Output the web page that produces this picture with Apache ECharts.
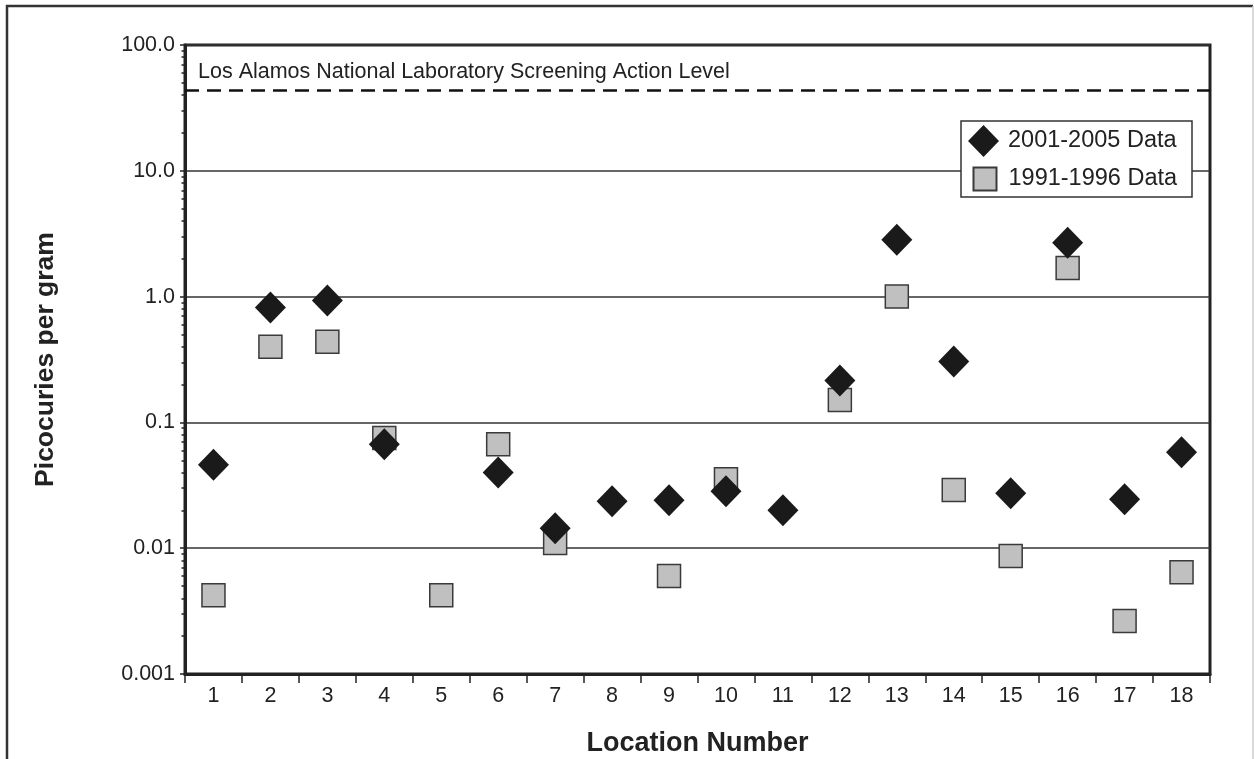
<!DOCTYPE html>
<html>
<head>
<meta charset="utf-8">
<script src="https://cdn.jsdelivr.net/npm/echarts@6/dist/echarts.min.js"></script>
<style>
html,body{margin:0;padding:0;background:#fff;}
#chart{width:1254px;height:759px;}
</style>
</head>
<body>
<div id="chart"></div>
<script>
const categories = ['1','2','3','4','5','6','7','8','9','10','11','12','13','14','15','16','17','18'];
const data2001 = [0.046, 0.82, 0.93, 0.067, null, 0.040, 0.0144, 0.0236, 0.024, 0.0283, 0.020, 0.215, 2.83, 0.305, 0.0273, 2.68, 0.0245, 0.0578];
const data1991 = [0.00423, 0.40, 0.438, 0.075, 0.00423, 0.067, 0.011, null, 0.0060, 0.0353, null, 0.151, 1.0, 0.029, 0.00867, 1.69, 0.00264, 0.00645];
const actionLevel = [44];
const yTickValues = [0.001, 0.01, 0.1, 1, 10, 100];
const yTickLabels = ['0.001', '0.01', '0.1', '1.0', '10.0', '100.0'];
const seriesNames = ['2001-2005 Data', '1991-1996 Data'];
const actionLabel = 'Los Alamos National Laboratory Screening Action Level';

const FONT = '"Liberation Sans", Arial, Helvetica, sans-serif';

// minor tick positions (log10 space) for decades 0.001..100
const minorTicks = [];
for (let d = -3; d < 2; d++) {
  for (let k = 2; k <= 9; k++) minorTicks.push(d + Math.log10(k));
}

const chart = echarts.init(document.getElementById('chart'), null, {renderer: 'canvas'});
chart.setOption({
  backgroundColor: '#fff',
  animation: false,
  textStyle: {fontFamily: FONT, color: '#222'},
  title: {
    text: actionLabel,
    left: 198, top: 61, padding: 0,
    textStyle: {fontFamily: FONT, fontSize: 21.5, fontWeight: 'normal', color: '#222'}
  },
  graphic: [
    {type: 'polyline', silent: true, z: 100,
     shape: {points: [[7, 770], [7, 6], [1253, 6]]},
     style: {stroke: '#333', lineWidth: 2.5, fill: null}},
    {type: 'line', silent: true, z: 100,
     shape: {x1: 1253, y1: 6, x2: 1253, y2: 770},
     style: {stroke: '#ccc', lineWidth: 1.5}},
    {type: 'rect', silent: true, z: 50,
     shape: {x: 961, y: 121, width: 231, height: 76},
     style: {stroke: '#333', lineWidth: 1.5, fill: '#fff'}}
  ],
  legend: [
    {data: [seriesNames[0]], left: 968, top: 125, padding: 0, z: 60,
     itemWidth: 31, itemHeight: 32, orient: 'vertical', selectedMode: false,
     textStyle: {fontFamily: FONT, fontSize: 23.5, color: '#222', padding: [0, 0, 0, 4]}},
    {data: [seriesNames[1]], left: 972.5, top: 166.5, padding: 0, z: 60,
     itemWidth: 23, itemHeight: 23, orient: 'vertical', selectedMode: false,
     textStyle: {fontFamily: FONT, fontSize: 23.5, color: '#222', padding: [0, 0, 0, 7]}}
  ],
  grid: {
    left: 185, right: 44, top: 45, bottom: 85,
    outerBoundsMode: 'none',
    containLabel: false,
    show: true, borderColor: '#222', borderWidth: 3, backgroundColor: 'transparent'
  },
  xAxis: {
    type: 'category',
    data: categories,
    boundaryGap: true,
    name: 'Location Number',
    nameLocation: 'middle',
    nameGap: 56,
    nameTextStyle: {fontFamily: FONT, fontSize: 27, fontWeight: 'bold', color: '#222'},
    axisLine: {onZero: false, lineStyle: {color: '#222', width: 3}},
    axisTick: {show: true, alignWithLabel: false, length: 9, lineStyle: {color: '#222', width: 1.5}},
    axisLabel: {fontFamily: FONT, fontSize: 21.5, color: '#222', margin: 11, interval: 0},
    splitLine: {show: false}
  },
  yAxis: [
    {
      type: 'log',
      logBase: 10,
      min: 0.001,
      max: 100,
      name: 'Picocuries per gram',
      nameLocation: 'middle',
      nameGap: 126,
      nameTextStyle: {fontFamily: FONT, fontSize: 26.5, fontWeight: 'bold', color: '#222'},
      axisLine: {show: true, onZero: false, lineStyle: {color: '#222', width: 3}},
      axisTick: {show: true, length: 5, lineStyle: {color: '#222', width: 1.5}},
      axisLabel: {
        fontFamily: FONT, fontSize: 21.5, color: '#222', margin: 10,
        formatter: function (v) {
          for (let i = 0; i < yTickValues.length; i++) {
            if (Math.abs(Math.log10(v) - Math.log10(yTickValues[i])) < 1e-6) return yTickLabels[i];
          }
          return '';
        }
      },
      splitLine: {show: true, lineStyle: {color: '#333', width: 1.5}}
    },
    {
      type: 'value',
      min: -3,
      max: 2,
      position: 'left',
      offset: 0,
      axisLine: {show: false, onZero: false},
      axisLabel: {show: false},
      splitLine: {show: false},
      axisTick: {show: true, length: 3.5, customValues: minorTicks, lineStyle: {color: '#222', width: 1.5}}
    }
  ],
  series: [
    {
      name: seriesNames[1],
      type: 'scatter',
      yAxisIndex: 0,
      data: data1991,
      symbol: 'rect',
      symbolSize: 23,
      z: 3,
      itemStyle: {color: '#c0c0c0', borderColor: '#3a3a3a', borderWidth: 1.5, opacity: 1},
      markLine: {
        silent: true,
        symbol: ['none', 'none'],
        label: {show: false},
        lineStyle: {type: [14, 8], color: '#111', width: 2.5},
        data: [{yAxis: actionLevel[0]}]
      }
    },
    {
      name: seriesNames[0],
      type: 'scatter',
      yAxisIndex: 0,
      data: data2001,
      symbol: 'diamond',
      symbolSize: [31, 32],
      z: 4,
      itemStyle: {color: '#1a1a1a', opacity: 1}
    }
  ]
});
</script>
</body>
</html>
